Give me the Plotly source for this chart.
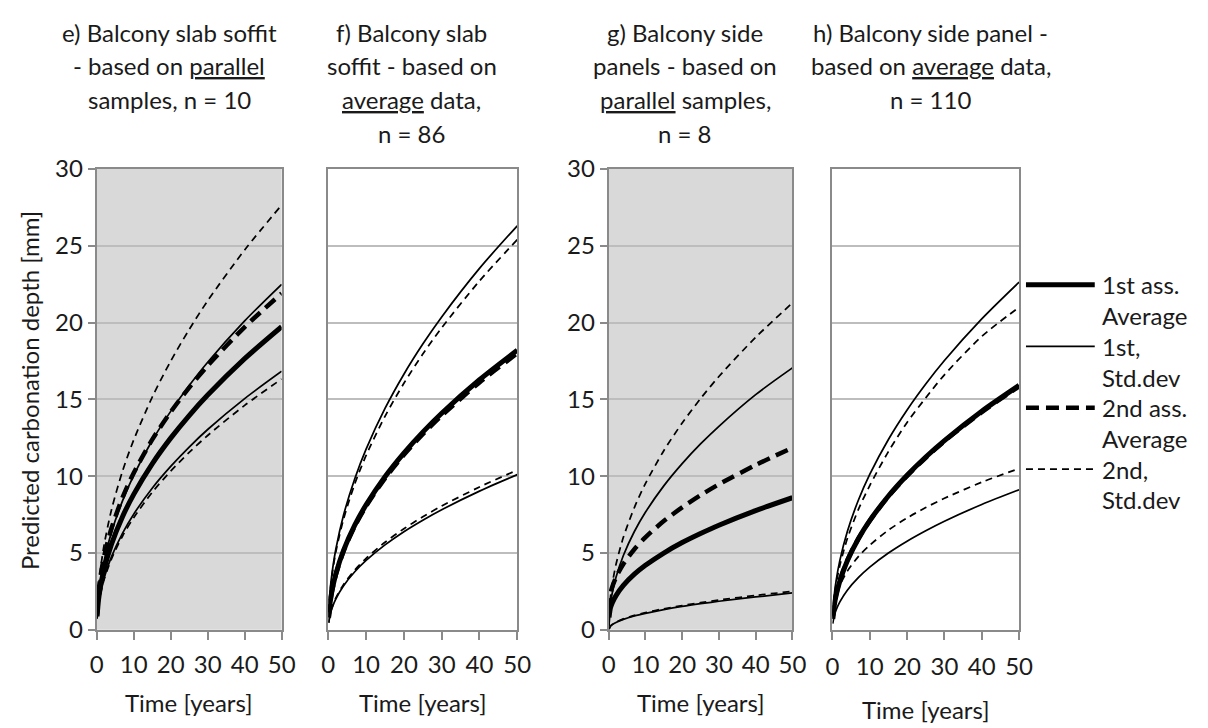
import plotly.graph_objects as go

# ---- data -------------------------------------------------------------
years = [0.1, 0.5, 1, 2, 4, 7, 10, 15, 20, 25, 30, 40, 50]

# e) slab soffit, parallel samples
e_avg1 = [0.88, 1.97, 2.79, 3.95, 5.58, 7.38, 8.82, 10.81, 12.48, 13.95, 15.28, 17.65, 19.73]
e_sd1_hi = [1.01, 2.25, 3.18, 4.50, 6.36, 8.41, 10.06, 12.32, 14.22, 15.90, 17.42, 20.11, 22.49]
e_sd1_lo = [0.75, 1.68, 2.38, 3.37, 4.76, 6.30, 7.53, 9.22, 10.64, 11.90, 13.04, 15.05, 16.83]
e_avg2 = [1.00, 2.48, 3.44, 4.77, 6.61, 8.62, 10.21, 12.38, 14.18, 15.77, 17.19, 19.71, 21.90]
e_sd2_hi = [1.24, 2.76, 3.91, 5.53, 7.82, 10.35, 12.36, 15.14, 17.49, 19.55, 21.42, 24.73, 27.65]
e_sd2_lo = [0.73, 1.63, 2.31, 3.27, 4.62, 6.11, 7.30, 8.95, 10.33, 11.55, 12.65, 14.61, 16.33]

# f) slab soffit, average data
f_avg1 = [0.81, 1.82, 2.57, 3.64, 5.15, 6.81, 8.14, 9.97, 11.51, 12.87, 14.10, 16.28, 18.20]
f_sd1_hi = [1.18, 2.63, 3.72, 5.26, 7.44, 9.84, 11.76, 14.41, 16.64, 18.60, 20.37, 23.53, 26.30]
f_sd1_lo = [0.45, 1.01, 1.43, 2.02, 2.86, 3.78, 4.52, 5.53, 6.39, 7.14, 7.82, 9.03, 10.10]
f_avg2 = [0.80, 1.80, 2.55, 3.60, 5.09, 6.74, 8.05, 9.86, 11.39, 12.73, 13.94, 16.10, 18.00]
f_sd2_hi = [1.14, 2.54, 3.59, 5.08, 7.18, 9.50, 11.35, 13.90, 16.05, 17.95, 19.66, 22.71, 25.40]
f_sd2_lo = [0.47, 1.04, 1.47, 2.08, 2.94, 3.89, 4.65, 5.70, 6.58, 7.36, 8.06, 9.30, 10.40]

# g) side panels, parallel samples
g_avg1 = [0.80, 1.44, 1.77, 2.23, 2.89, 3.62, 4.20, 5.00, 5.68, 6.27, 6.81, 7.76, 8.60]
g_sd1_hi = [0.25, 1.71, 2.42, 3.42, 4.84, 6.40, 7.65, 9.37, 10.82, 12.10, 13.25, 15.31, 17.05]
g_sd1_lo = [0.05, 0.24, 0.34, 0.48, 0.68, 0.90, 1.07, 1.31, 1.52, 1.70, 1.86, 2.14, 2.40]
g_avg2 = [1.20, 2.36, 2.80, 3.42, 4.29, 5.25, 6.02, 7.08, 7.97, 8.76, 9.47, 10.73, 11.85]
g_sd2_hi = [0.30, 2.13, 3.01, 4.26, 6.02, 7.96, 9.52, 11.66, 13.46, 15.05, 16.49, 19.04, 21.28]
g_sd2_lo = [0.05, 0.25, 0.35, 0.50, 0.71, 0.94, 1.12, 1.37, 1.58, 1.77, 1.94, 2.24, 2.50]

# h) side panels, average data
h_avg1 = [0.71, 1.59, 2.25, 3.18, 4.50, 5.95, 7.11, 8.71, 10.06, 11.25, 12.32, 14.23, 15.91]
h_sd1_hi = [1.01, 2.26, 3.20, 4.52, 6.40, 8.47, 10.12, 12.39, 14.31, 16.00, 17.53, 20.24, 22.63]
h_sd1_lo = [0.41, 0.91, 1.29, 1.82, 2.58, 3.41, 4.08, 5.00, 5.77, 6.45, 7.07, 8.16, 9.12]
h_avg2 = [0.72, 1.62, 2.29, 3.22, 4.52, 5.96, 7.10, 8.68, 10.02, 11.20, 12.28, 14.17, 15.85]
h_sd2_hi = [0.94, 2.10, 2.97, 4.20, 5.94, 7.86, 9.39, 11.60, 13.50, 15.10, 16.60, 19.10, 21.00]
h_sd2_lo = [0.87, 1.66, 2.19, 2.90, 3.82, 4.78, 5.51, 6.49, 7.28, 7.96, 8.56, 9.61, 10.50]

x_ticks = [0, 10, 20, 30, 40, 50]
y_ticks = [0, 5, 10, 15, 20, 25, 30]

panel_titles = [
    ["e) Balcony slab soffit", "- based on <u>parallel</u>", "samples, n = 10"],
    ["f) Balcony slab", "soffit - based on", "<u>average</u> data,", "n = 86"],
    ["g) Balcony side", "panels - based on", "<u>parallel</u> samples,", "n = 8"],
    ["h) Balcony side panel -", "based on <u>average</u> data,", "n = 110"],
]
legend_labels = [["1st ass.", "Average"], ["1st,", "Std.dev"],
                 ["2nd ass.", "Average"], ["2nd,", "Std.dev"]]

# ---- layout constants (pixels) ---------------------------------------
W, H = 1208, 728
FONT = "Lato"
TXT = "#1a1a1a"
AXC = "#8a8a8a"
GRID = "#bdbdbd"
SHADE = "#d9d9d9"

panels_px = [(91.3, 279.5), (327.0, 519.3), (612.3, 799.3), (840.0, 1030.0)]
y_top, y_bot = 159.3, 639.3
shaded = [True, False, True, False]
show_ylabels = [True, False, True, False]
title_cx = [165, 412, 690, 940]
xtitle_y = [715, 715, 715, 722]

STY = {
    "avg1": dict(width=5, dash="solid"),
    "sd1": dict(width=1.75, dash="solid"),
    "avg2": dict(width=4.5, dash="13px,7px"),
    "sd2": dict(width=1.75, dash="7px,5px"),
}

panel_data = [
    [("sd1", e_sd1_hi), ("sd1", e_sd1_lo), ("sd2", e_sd2_hi), ("sd2", e_sd2_lo), ("avg1", e_avg1), ("avg2", e_avg2)],
    [("sd1", f_sd1_hi), ("sd1", f_sd1_lo), ("sd2", f_sd2_hi), ("sd2", f_sd2_lo), ("avg1", f_avg1), ("avg2", f_avg2)],
    [("sd1", g_sd1_hi), ("sd1", g_sd1_lo), ("sd2", g_sd2_hi), ("sd2", g_sd2_lo), ("avg1", g_avg1), ("avg2", g_avg2)],
    [("sd1", h_sd1_hi), ("sd1", h_sd1_lo), ("sd2", h_sd2_hi), ("sd2", h_sd2_lo), ("avg1", h_avg1), ("avg2", h_avg2)],
]


def px_x(p):
    return p / W


def px_y(p):
    return 1 - p / H


fig = go.Figure()
layout = dict(
    width=W, height=H,
    margin=dict(l=0, r=0, t=0, b=0),
    paper_bgcolor="white",
    plot_bgcolor="rgba(0,0,0,0)",
    showlegend=False,
    font=dict(family=FONT, size=24, color=TXT),
)
shapes = []
annotations = []

for i, (x0, x1) in enumerate(panels_px):
    n = "" if i == 0 else str(i + 1)
    xa, ya = "x" + n, "y" + n
    for kind, vals in panel_data[i]:
        fig.add_trace(go.Scatter(
            x=years, y=vals, mode="lines", xaxis=xa, yaxis=ya,
            line=dict(color="black", shape="spline", smoothing=0.8, **STY[kind]),
            hoverinfo="skip",
        ))
    layout["xaxis" + n] = dict(
        domain=[px_x(x0), px_x(x1)], anchor=ya, range=[0, 50],
        tickvals=x_ticks, ticks="outside", ticklen=8, tickwidth=2, tickcolor=AXC,
        showline=True, linecolor=AXC, linewidth=2, mirror=True,
        showgrid=False, zeroline=False, fixedrange=True,
        tickfont=dict(family=FONT, size=24, color=TXT),
        ticklabelstandoff=4 if i < 3 else 6,
    )
    layout["yaxis" + n] = dict(
        domain=[px_y(y_bot), px_y(y_top)], anchor=xa, range=[0, 30],
        tickvals=y_ticks,
        ticks="outside" if show_ylabels[i] else "", ticklen=7, tickwidth=2, tickcolor=AXC,
        showticklabels=show_ylabels[i],
        showline=True, linecolor=AXC, linewidth=2, mirror=True,
        showgrid=True, gridcolor=GRID, gridwidth=1.5,
        zeroline=False, fixedrange=True,
        tickfont=dict(family=FONT, size=24, color=TXT),
    )
    if shaded[i]:
        shapes.append(dict(type="rect", xref=xa + " domain", yref=ya + " domain",
                           x0=0, x1=1, y0=0, y1=1, fillcolor=SHADE,
                           line=dict(width=0), layer="below"))
    # x-axis title
    annotations.append(dict(text="Time [years]", x=px_x((x0 + x1) / 2),
                            y=px_y(xtitle_y[i]), xref="paper", yref="paper",
                            showarrow=False, xanchor="center", yanchor="middle",
                            font=dict(family=FONT, size=24, color=TXT)))
    # panel title lines
    for k, line in enumerate(panel_titles[i]):
        annotations.append(dict(text=line, x=px_x(title_cx[i]), y=px_y(17 + 35 * k),
                                xref="paper", yref="paper", showarrow=False,
                                xanchor="center", yanchor="middle",
                                font=dict(family=FONT, size=24, color=TXT)))

# y-axis title
annotations.append(dict(text="Predicted carbonation depth [mm]", x=px_x(23), y=px_y(390),
                        xref="paper", yref="paper", showarrow=False, textangle=-90,
                        xanchor="center", yanchor="middle",
                        font=dict(family=FONT, size=24, color=TXT)))

# legend (drawn at the right of the last panel)
leg_styles = ["avg1", "sd1", "avg2", "sd2"]
for j, kind in enumerate(leg_styles):
    yl = 280 + 64 * j
    shapes.append(dict(type="line", xref="paper", yref="paper",
                       x0=px_x(1037), x1=px_x(1107), y0=px_y(yl), y1=px_y(yl),
                       line=dict(color="black", **STY[kind])))
    for k, txt in enumerate(legend_labels[j]):
        annotations.append(dict(text=txt, x=px_x(1112), y=px_y(yl + 32 * k),
                                xref="paper", yref="paper", showarrow=False,
                                xanchor="left", yanchor="middle",
                                font=dict(family=FONT, size=24, color=TXT)))

layout["shapes"] = shapes
layout["annotations"] = annotations
fig.update_layout(**layout)
fig.write_html("out.html", config={"displayModeBar": False})
